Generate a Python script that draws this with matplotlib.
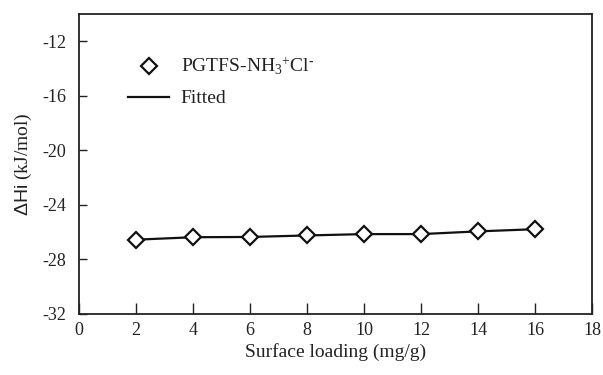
import matplotlib
matplotlib.use("Agg")
import matplotlib.pyplot as plt

plt.rcParams['font.family'] = ['Liberation Serif', 'DejaVu Serif']
plt.rcParams['mathtext.fontset'] = 'custom'
plt.rcParams['mathtext.rm'] = 'Liberation Serif'
plt.rcParams['mathtext.it'] = 'Liberation Serif:italic'
plt.rcParams['mathtext.sf'] = 'Liberation Sans'
plt.rcParams['axes.unicode_minus'] = False

loading = [2, 4, 6, 8, 10, 12, 14, 16]
delta_h = [-26.58, -26.40, -26.38, -26.27, -26.17, -26.17, -25.97, -25.81]
x_ticks = [0, 2, 4, 6, 8, 10, 12, 14, 16, 18]
y_ticks = [-32, -28, -24, -20, -16, -12]

fig = plt.figure(figsize=(6.03, 3.75), dpi=100)
ax = fig.add_axes([0.131, 0.164, 0.851, 0.799])

ax.plot(loading, delta_h, linestyle='none', marker='D', markersize=8,
        markerfacecolor='white', markeredgecolor='#111111', markeredgewidth=1.6,
        label=r'PGTFS-NH$_3$$^{+}$Cl$^{\text{-}}$', zorder=3)
ax.plot(loading, delta_h, color='#111111', linewidth=1.6, label='Fitted', zorder=2)

ax.set_xlim(0, 18)
ax.set_ylim(-32, -10)
ax.set_xticks(x_ticks)
ax.set_yticks(y_ticks)
ax.tick_params(axis='x', direction='in', length=8, width=1, labelsize=13, pad=6, colors='#222222')
ax.tick_params(axis='y', direction='in', length=6, width=1, labelsize=13, pad=9, colors='#222222')
for s in ax.spines.values():
    s.set_linewidth(1.3)
    s.set_color('#222222')

ax.set_xlabel('Surface loading (mg/g)', fontsize=14, labelpad=3, color='#222222')
ax.set_ylabel(r'$\mathsf{\Delta Hi}$ (kJ/mol)', fontsize=14, labelpad=6, color='#222222')

ax.legend(loc='upper left', bbox_to_anchor=(0.096, 0.86), frameon=False,
          fontsize=14, handlelength=2.1, handletextpad=0.6, labelspacing=0.65,
          borderpad=0, borderaxespad=0, labelcolor='#222222')

fig.savefig('out.png', dpi=100)
